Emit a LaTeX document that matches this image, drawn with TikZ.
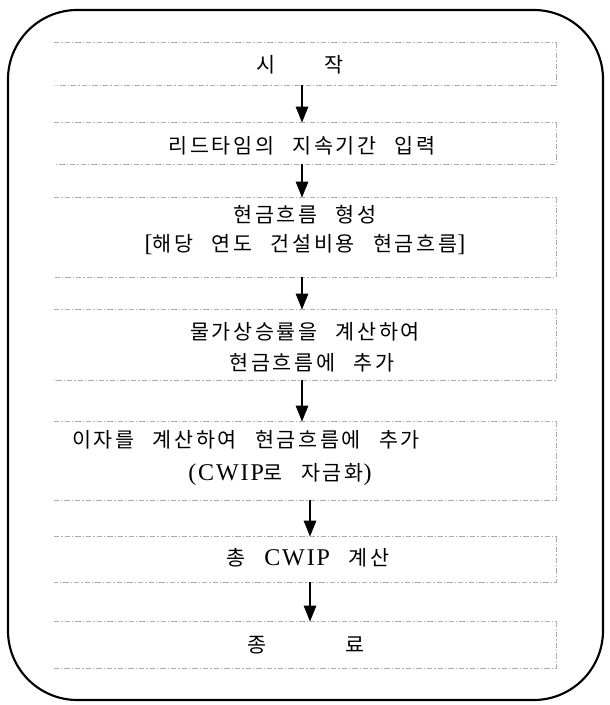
\documentclass[tikz,border=0pt]{standalone}
\usepackage{fontspec}
\setmainfont{Liberation Serif}
\newfontfamily\kr[LetterSpace=13,WordSpace=2.5]{Noto Sans CJK KR}
\newfontfamily\lat[LetterSpace=8]{Liberation Serif}
\newcommand{\la}[1]{{\fontsize{18pt}{20pt}\selectfont\lat #1}}
\usetikzlibrary{arrows.meta}
\begin{document}
\begin{tikzpicture}[x=0.75pt,y=-0.75pt,
  boxnode/.style={minimum width=376pt,inner sep=0pt,draw=none},
  txt/.style={font=\fontsize{15.5pt}{18pt}\selectfont\kr,inner sep=0pt},
  edge/.style={gray!65,line width=0.55pt,dash pattern=on 4pt off 1.5pt on 1pt off 1.5pt},
  flow/.style={line width=1.9pt,-{Triangle[length=12pt,width=9pt]}},
  frame/.style={line width=1.6pt,rounded corners=52pt}]
\useasboundingbox (0,0) rectangle (609,705);
\draw[frame] (8,10) rectangle (603,700);
% boxes
\node[boxnode,minimum height=31.5pt] (b1) at (305,64) {};
\node[boxnode,minimum height=30.75pt] (b2) at (305,143.5) {};
\node[boxnode,minimum height=59.25pt] (b3) at (305,237.5) {};
\node[boxnode,minimum height=52.5pt] (b4) at (305,345) {};
\node[boxnode,minimum height=58.5pt] (b5) at (305,461) {};
\node[boxnode,minimum height=33.75pt] (b6) at (305,559.5) {};
\node[boxnode,minimum height=34.5pt] (b7) at (305,645) {};
\foreach \b in {b1,b2,b3,b4,b5,b6,b7}{
  \draw[edge] (\b.north west) -- (\b.north east) -- (\b.south east) -- (\b.south west);
}
% texts
\node[txt] (t1) at (300,65) {시\hspace{37pt}작};
\node[txt] (t2) at (302,146) {리드타임의 지속기간 입력};
\node[txt] (t3a) at (305,215) {현금흐름 형성};
\node[txt] (t3b) at (305,245) {\la{[}해당 연도 건설비용 현금흐름\la{]}};
\node[txt] (t4a) at (305,332) {물가상승률을 계산하여};
\node[txt] (t4b) at (312,363) {현금흐름에 추가};
\node[txt] (t5a) at (246,440) {이자를 계산하여 현금흐름에 추가};
\node[txt] (t5b) at (280,475) {\la{(CWIP}로 자금화\la{)}};
\node[txt] (t6) at (308,558) {총 \la{CWIP} 계산};
\node[txt] (t7) at (306,645) {종\hspace{59pt}료};
% arrows
\draw[flow] ([xshift=-2.25pt]b1.south) -- ([xshift=-2.25pt]b2.north);
\draw[flow] ([xshift=-2.25pt]b2.south) -- ([xshift=-2.25pt]b3.north);
\draw[flow] ([xshift=-2.25pt]b3.south) -- ([xshift=-2.25pt]b4.north);
\draw[flow] ([xshift=-2.25pt]b4.south) -- ([xshift=-2.25pt]b5.north);
\draw[flow] ([xshift=3.75pt]b5.south) -- ([xshift=3.75pt]b6.north);
\draw[flow] ([xshift=3.75pt]b6.south) -- ([xshift=3.75pt]b7.north);
\end{tikzpicture}
\end{document}
